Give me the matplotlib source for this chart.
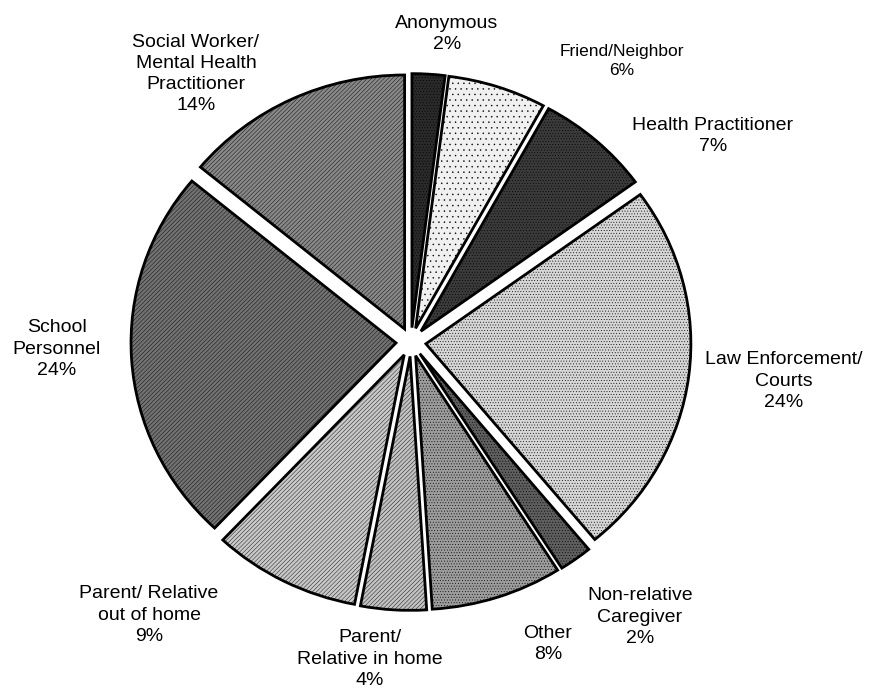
import matplotlib
matplotlib.use("Agg")
import matplotlib.pyplot as plt

labels = ["Anonymous\n2%", "Friend/Neighbor\n6%", "Health Practitioner\n7%",
          "Law Enforcement/\nCourts\n24%", "Non-relative\nCaregiver\n2%", "Other\n8%",
          "Parent/\nRelative in home\n4%", "Parent/ Relative\nout of home\n9%",
          "School\nPersonnel\n24%", "Social Worker/\nMental Health\nPractitioner\n14%"]
values = [2, 6, 7, 24, 2, 8, 4, 9, 24, 14]

colors = ["#2a2a2a", "#f0f0f0", "#3a3a3a", "#d6d6d6", "#5e5e5e",
          "#9c9c9c", "#c2c2c2", "#c8c8c8", "#727272", "#888888"]
hatches = ["......", "...", "......", "......", "......", "......",
           "////////", "////////", "////////", "////////"]
label_pos = [(447, 34), (622, 61), (713, 136), (784, 381), (640, 617),
             (548, 644), (370, 659), (149, 615), (57, 349), (196, 74)]
label_size = [14, 12.5, 14, 14, 14, 14, 14, 14, 14, 14]

plt.rcParams['font.family'] = ['Liberation Sans', 'DejaVu Sans']
plt.rcParams['hatch.linewidth'] = 0.3

W, H = 876, 691
Rx, Ry = 265.0, 254.0
k = Rx / Ry
cx, cy = 411, 342

fig = plt.figure(figsize=(W / 100, H / 100), dpi=100)
ax = fig.add_axes([0, 0, 1, 1])
ax.axis('off')

wedges, _ = ax.pie(values, colors=colors, startangle=90, counterclock=False,
                   explode=[15] * len(values), radius=Rx,
                   center=(cx, (H - cy) * k),
                   wedgeprops=dict(edgecolor='black', linewidth=2))
for w, h in zip(wedges, hatches):
    w.set_hatch(h)

ax.set_aspect('auto')
ax.set_xlim(0, W)
ax.set_ylim(0, H * k)

for lab, (x, y), s in zip(labels, label_pos, label_size):
    fig.text(x / W, 1 - y / H, lab, ha='center', va='center', fontsize=s,
             linespacing=1.32, color='black')

fig.savefig("out.png", dpi=100)
